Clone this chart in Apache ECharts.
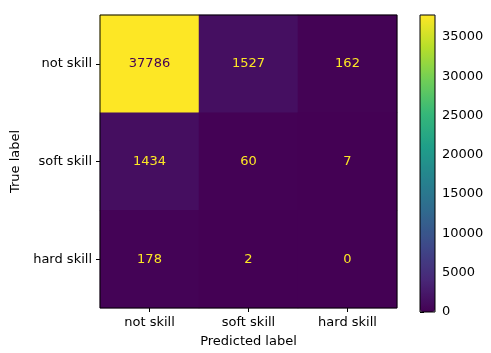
<!DOCTYPE html>
<html>
<head>
<meta charset="utf-8">
<script src="https://cdn.jsdelivr.net/npm/echarts@6/dist/echarts.min.js"></script>
<style>
  html, body { margin: 0; padding: 0; background: #fff; }
  #cm-chart { width: 491px; height: 353px; }
</style>
</head>
<body>
<div id="cm-chart"></div>
<script>
// class labels (both axes)
const classes = ["not skill", "soft skill", "hard skill"];
// confusion matrix rows = true label, cols = predicted label
const matrix = [
  [37786, 1527, 162],
  [1434, 60, 7],
  [178, 2, 0],
];
const colorbarTicks = [0, 5000, 10000, 15000, 20000, 25000, 30000, 35000];

const viridis = [
  "#440154", "#482878", "#3e4989", "#31688e", "#26828e",
  "#1f9e89", "#35b779", "#6ece58", "#b5de2b", "#fde725",
];
const font = "DejaVu Sans";
const fs = 13;
const vmax = Math.max(...matrix.flat());

const cells = [];
matrix.forEach((row, i) => {
  row.forEach((v, j) => cells.push([j, i, v]));
});

const chart = echarts.init(document.getElementById("cm-chart"));
const option = {
  backgroundColor: "#fff",
  animation: false,
  textStyle: { fontFamily: font },
  grid: [
    { left: 100, top: 15, width: 297, height: 297, show: true, borderColor: "#000", borderWidth: 1, backgroundColor: "transparent", z: 5 },
    { left: 420, top: 15, width: 15, height: 297, show: true, borderColor: "#000", borderWidth: 1, backgroundColor: "transparent", z: 5 },
  ],
  xAxis: [
    {
      type: "category",
      gridIndex: 0,
      data: classes,
      name: "Predicted label",
      nameLocation: "middle",
      nameGap: 27,
      nameTextStyle: { color: "#000", fontSize: fs, fontFamily: font },
      axisLine: { show: false },
      axisTick: { show: true, alignWithLabel: true, length: 4, lineStyle: { color: "#000" } },
      axisLabel: { color: "#000", fontSize: fs, fontFamily: font, margin: 8 },
      splitLine: { show: false },
    },
    { type: "value", gridIndex: 1, show: false, min: 0, max: 1 },
  ],
  yAxis: [
    {
      type: "category",
      gridIndex: 0,
      data: classes,
      inverse: true,
      name: "True label",
      nameLocation: "middle",
      nameGap: 77,
      nameTextStyle: { color: "#000", fontSize: fs, fontFamily: font },
      axisLine: { show: false },
      axisTick: { show: true, alignWithLabel: true, length: 4, lineStyle: { color: "#000" } },
      axisLabel: { color: "#000", fontSize: fs, fontFamily: font, margin: 8 },
      splitLine: { show: false },
    },
    {
      type: "value",
      gridIndex: 1,
      position: "right",
      min: 0,
      max: vmax,
      interval: 5000,
      axisLine: { show: false },
      axisTick: { show: true, length: 4, lineStyle: { color: "#000" } },
      axisLabel: {
        color: "#000", fontSize: fs, fontFamily: font, margin: 7,
        showMaxLabel: false,
        formatter: (v) => (colorbarTicks.includes(v) ? String(v) : ""),
      },
      splitLine: { show: false },
    },
  ],
  visualMap: {
    type: "continuous",
    seriesIndex: 0,
    min: 0,
    max: vmax,
    calculable: false,
    hoverLink: false,
    left: 420,
    top: 15,
    padding: 0,
    itemWidth: 15,
    itemHeight: 297,
    inRange: { color: viridis },
  },
  series: [
    {
      type: "heatmap",
      xAxisIndex: 0,
      yAxisIndex: 0,
      data: cells,
      label: {
        show: true,
        fontSize: fs,
        fontFamily: font,
        formatter: (p) => (p.value[2] > vmax / 2 ? "{dark|" + p.value[2] + "}" : "{light|" + p.value[2] + "}"),
        rich: {
          dark: { color: "#440154", fontSize: fs, fontFamily: font },
          light: { color: "#fde725", fontSize: fs, fontFamily: font },
        },
      },
      emphasis: { disabled: true },
    },
    { type: "scatter", xAxisIndex: 1, yAxisIndex: 1, data: [] },
  ],
};
chart.setOption(option);
</script>
</body>
</html>
